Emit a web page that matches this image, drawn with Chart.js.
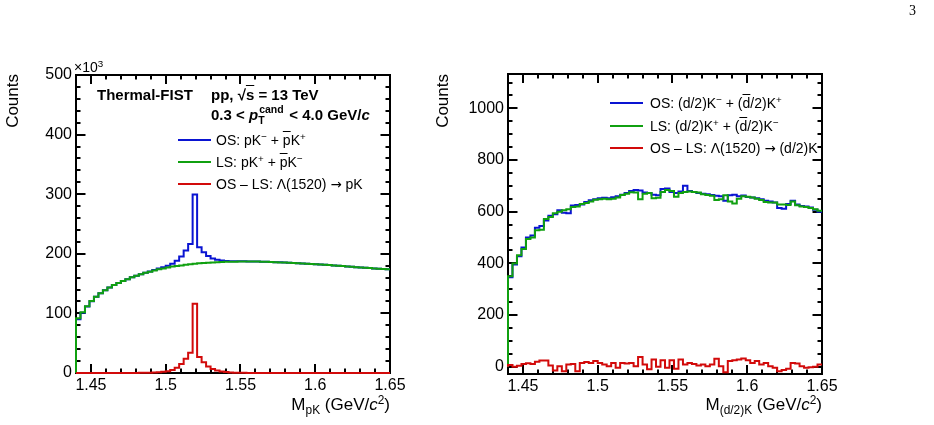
<!DOCTYPE html>
<html><head><meta charset="utf-8">
<script src="https://cdn.jsdelivr.net/npm/chart.js@4"></script>
<style>
html,body{margin:0;padding:0;background:#fff;}
body{width:934px;height:425px;position:relative;overflow:hidden;font-family:'Liberation Sans',Arial,sans-serif;color:#000;}
canvas{position:absolute;left:0;top:0;}
.t{position:absolute;white-space:pre;line-height:1;}
.ol{text-decoration:overline;}
.sup{font-size:0.7em;position:relative;top:-0.5em;}
.sub{font-size:0.7em;position:relative;top:0.3em;}
.row{position:absolute;height:20px;display:flex;align-items:center;font-size:14px;line-height:1;}
.row .ln{height:2px;margin-right:5px;flex:none;}
.row .tx{white-space:pre;}
.ar{font-family:'DejaVu Sans',sans-serif;font-size:0.95em;}
.ss{display:inline-block;position:relative;height:0;}
.ss span{position:absolute;left:0;font-size:0.7em;}
</style></head><body>
<canvas id="cL" width="934" height="425"></canvas>
<canvas id="cR" width="934" height="425"></canvas>

<div class="t" style="left:909px;top:4px;font-family:'Liberation Serif','DejaVu Serif',serif;font-size:14px;">3</div>
<div class="t" style="left:74px;top:60px;font-size:14px;">×10<span class="sup">3</span></div>

<div class="t" style="left:4px;top:194px;width:120px;text-align:right;font-size:17px;transform-origin:0 0;transform:rotate(-90deg);">Counts</div>
<div class="t" style="left:434px;top:194px;width:120px;text-align:right;font-size:17px;transform-origin:0 0;transform:rotate(-90deg);">Counts</div>

<div class="t" style="right:544px;top:396px;font-size:17px;">M<span class="sub">pK</span> (GeV/<i>c</i><span class="sup">2</span>)</div>
<div class="t" style="right:112px;top:396px;font-size:17px;">M<span class="sub">(d/2)K</span> (GeV/<i>c</i><span class="sup">2</span>)</div>

<div class="t" style="left:97px;top:87px;font-size:15px;font-weight:bold;">Thermal-FIST</div>
<div class="t" style="left:211px;top:87px;font-size:15px;font-weight:bold;">pp, √<span class="ol">s</span> = 13 TeV</div>
<div class="t" style="left:211px;top:107px;font-size:15px;font-weight:bold;">0.3 &lt; <i>p</i><span class="ss" style="width:27px;"><span style="top:-1.5em;left:1px;">cand</span><span style="top:-0.45em;left:0px;">T</span></span> &lt; 4.0 GeV/<i>c</i></div>

<div class="row" style="left:178px;top:130px;"><div class="ln" style="width:33px;background:#0a14d2"></div><span class="tx">OS: pK<span class="sup">−</span> + <span class="ol">p</span>K<span class="sup">+</span></span></div>
<div class="row" style="left:178px;top:152px;"><div class="ln" style="width:33px;background:#10a010"></div><span class="tx">LS: pK<span class="sup">+</span> + <span class="ol">p</span>K<span class="sup">−</span></span></div>
<div class="row" style="left:178px;top:174px;"><div class="ln" style="width:33px;background:#d20a0a"></div><span class="tx">OS – LS: Λ(1520) <span class="ar">→</span> pK</span></div>

<div class="row" style="left:610px;top:93px;"><div class="ln" style="width:33px;background:#0a14d2;margin-right:7px"></div><span class="tx">OS: (d/2)K<span class="sup">−</span> + (<span class="ol">d</span>/2)K<span class="sup">+</span></span></div>
<div class="row" style="left:610px;top:116px;"><div class="ln" style="width:33px;background:#10a010;margin-right:7px"></div><span class="tx">LS: (d/2)K<span class="sup">+</span> + (<span class="ol">d</span>/2)K<span class="sup">−</span></span></div>
<div class="row" style="left:610px;top:138px;"><div class="ln" style="width:33px;background:#d20a0a;margin-right:7px"></div><span class="tx">OS – LS: Λ(1520) <span class="ar">→</span> (d/2)K</span></div>

<script>
// ---------------- data ----------------
const massMin = 1.44, massMax = 1.65, nBins = 70;           // histogram binning (GeV/c^2)
const xTickValues = [1.45, 1.5, 1.55, 1.6, 1.65];
const xTickLabels = ['1.45', '1.5', '1.55', '1.6', '1.65'];
const leftYTicks = [0, 100, 200, 300, 400, 500];            // x10^3
const rightYTicks = [0, 200, 400, 600, 800, 1000];

// Left panel (pK), counts in units of 10^3
const leftOS = [90,101,111.5,120.5,128,134,139,143.5,147.5,151,
  154.5,157.5,160.5,163.2,165.8,168.3,170.5,172.8,175.3,177.5,
  180,183.5,188.5,195.5,205.5,216.5,299.3,211,202.6,196.1,
  192.2,189.9,188.7,188.1,187.7,187.4,187.3,187.3,187.2,187.1,
  187,186.8,186.6,186.3,186,185.7,185.4,185.1,184.7,184.3,
  183.9,183.4,183,182.5,182,181.5,181,180.5,180,179.4,
  178.8,178.2,177.6,177,176.5,176,175.5,175,174.5,174.2];
const leftLS = [92,102,112,121,128,134,139,143.5,147.5,151,
  154.5,157.5,160.5,163,165.5,168,170,172,174,175.5,
  177,178.5,179.5,180.5,181.5,182.5,183.3,184,184.6,185.1,
  185.5,185.9,186.2,186.5,186.7,186.8,186.9,187,187,187,
  186.9,186.7,186.5,186.2,185.9,185.6,185.3,185,184.6,184.2,
  183.8,183.4,183,182.5,182,181.5,181,180.5,180,179.4,
  178.8,178.2,177.6,177,176.5,176,175.5,175,174.5,174];
const leftDiff = [0,0,0,0,0,0,0,0,0,0,
  0,0,0,0.2,0.3,0.3,0.5,0.8,1.3,2,
  3,5,9,15,24,34,116,27,18,11,
  6.7,4,2.5,1.6,1,0.6,0.4,0.3,0.2,0.1,
  0.1,0.1,0.1,0.1,0.1,0.1,0.1,0.1,0.1,0.1,
  0.1,0,0,0,0,0,0,0,0,0,
  0,0,0,0,0,0,0,0,0,0];

// Right panel ((d/2)K), counts
const rightOS = [346,396,428,462,500,508,538,545,566,584,
  590,606,596,594,624,626,628,638,644,648,
  652,654,652,656,660,666,672,680,684,682,
  674,672,666,664,688,690,676,672,678,701,
  680,676,672,670,668,665,662,660,642,664,
  666,660,663,657,655,652,648,642,640,636,
  614,612,630,642,628,622,620,616,608,600];
const rightLS = [350,400,432,456,494,500,528,530,572,580,
  594,600,606,610,618,620,630,634,640,646,
  648,650,648,650,655,665,670,675,674,648,
  670,672,652,654,676,684,680,658,672,676,
  678,676,674,668,665,662,645,648,664,640,
  632,650,660,658,655,650,645,638,636,636,
  628,628,626,640,625,620,618,614,610,604];
const rightDiff = [7,0,4,11,14,11,19,24,24,5,
  -14,2,-17,9,11,-17,15,18,15,22,
  15,9,2,15,-4,15,13,15,2,38,
  9,-10,28,0,25,-4,25,-8,28,9,
  15,11,5,9,2,9,31,2,-21,22,
  25,28,32,25,15,22,9,15,2,-4,
  -17,-13,-8,15,13,2,-4,-2,0,9];

// ---------------- helpers ----------------
const binWidth = (massMax - massMin) / nBins;
const binEdges = Array.from({length: nBins + 1}, (_, i) => massMin + i * binWidth);
function histPoints(values) {
  const pts = [{x: binEdges[0], y: 0}];
  values.forEach((v, i) => { pts.push({x: binEdges[i], y: v}); pts.push({x: binEdges[i + 1], y: v}); });
  return pts;
}
const COL = {os: '#0a14d2', ls: '#10a010', diff: '#d20a0a'};
function ds(label, values, color, order) {
  return {label, data: histPoints(values), borderColor: color, borderWidth: 2, pointRadius: 0,
    tension: 0, fill: false, order, clip: 6, borderJoinStyle: 'miter', borderCapStyle: 'butt'};
}
const xMinorTicks = []; for (let k = 144; k <= 165; k++) xMinorTicks.push(k / 100);

const rootFrame = {
  id: 'rootFrame',
  beforeDatasetsDraw(chart, args, o) {
    const {ctx, chartArea: a, scales: {x, y}} = chart;
    ctx.save();
    ctx.strokeStyle = '#000'; ctx.lineWidth = 2; ctx.lineCap = 'butt';
    ctx.strokeRect(a.left, a.top, a.right - a.left, a.bottom - a.top);
    const line = (x1, y1, x2, y2) => { ctx.beginPath(); ctx.moveTo(x1, y1); ctx.lineTo(x2, y2); ctx.stroke(); };
    const xt = (vals, len) => vals.forEach(v => { const p = Math.round(x.getPixelForValue(v)); if (p < a.left - 0.5 || p > a.right + 0.5) return; line(p, a.bottom, p, a.bottom - len); line(p, a.top, p, a.top + len); });
    const yt = (vals, len) => vals.forEach(v => { const p = Math.round(y.getPixelForValue(v)); if (p < a.top - 0.5 || p > a.bottom + 0.5) return; line(a.left, p, a.left + len, p); line(a.right, p, a.right - len, p); });
    xt(xMinorTicks, 4.5); xt(o.xMajor, 9);
    yt(o.yMinor, 4.5); yt(o.yMajor, 9.5);
    ctx.restore();
  }
};

Chart.defaults.color = '#000';
Chart.defaults.font.family = "'Liberation Sans', Arial, sans-serif";

function makeChart(id, cfg) {
  return new Chart(document.getElementById(id), {
    type: 'line',
    data: {datasets: [ds('OS', cfg.os, COL.os, 3), ds('LS', cfg.ls, COL.ls, 2), ds('OS - LS', cfg.diff, COL.diff, 1)]},
    options: {
      responsive: false, animation: false, devicePixelRatio: 1,
      layout: {padding: cfg.padding},
      plugins: {legend: {display: false}, tooltip: {enabled: false},
        rootFrame: {xMajor: xTickValues, yMajor: cfg.yTicks, yMinor: cfg.yMinor}},
      scales: {
        x: {type: 'linear', min: massMin, max: massMax,
          grid: {display: false, drawTicks: false}, border: {display: false},
          afterBuildTicks: ax => { ax.ticks = xTickValues.map(v => ({value: v})); },
          afterFit: ax => { ax.height = cfg.xH; },
          ticks: {autoSkip: false, maxRotation: 0, padding: 3, font: {size: 16},
            callback: (v) => xTickLabels[xTickValues.indexOf(v)] ?? ''}},
        y: {type: 'linear', min: cfg.yMin, max: cfg.yMax,
          grid: {display: false, drawTicks: false}, border: {display: false},
          afterBuildTicks: ax => { ax.ticks = cfg.yTicks.map(v => ({value: v})); },
          afterFit: ax => { ax.width = cfg.yW; },
          ticks: {autoSkip: false, padding: 4, font: {size: 16}, callback: (v) => String(v)}}
      }
    },
    plugins: [rootFrame]
  });
}

const leftMinor = []; for (let v = 0; v <= 500; v += 20) leftMinor.push(v);
const rightMinor = []; for (let v = 0; v <= 1100; v += 50) rightMinor.push(v);

makeChart('cL', {os: leftOS, ls: leftLS, diff: leftDiff, yMin: 0, yMax: 500, yTicks: leftYTicks, yMinor: leftMinor,
  padding: {left: 0, top: 75, right: 544, bottom: 0}, yW: 76, xH: 52});
makeChart('cR', {os: rightOS, ls: rightLS, diff: rightDiff, yMin: -28, yMax: 1133, yTicks: rightYTicks, yMinor: rightMinor,
  padding: {left: 430, top: 74, right: 112, bottom: 0}, yW: 78, xH: 51});
</script>
</body></html>
